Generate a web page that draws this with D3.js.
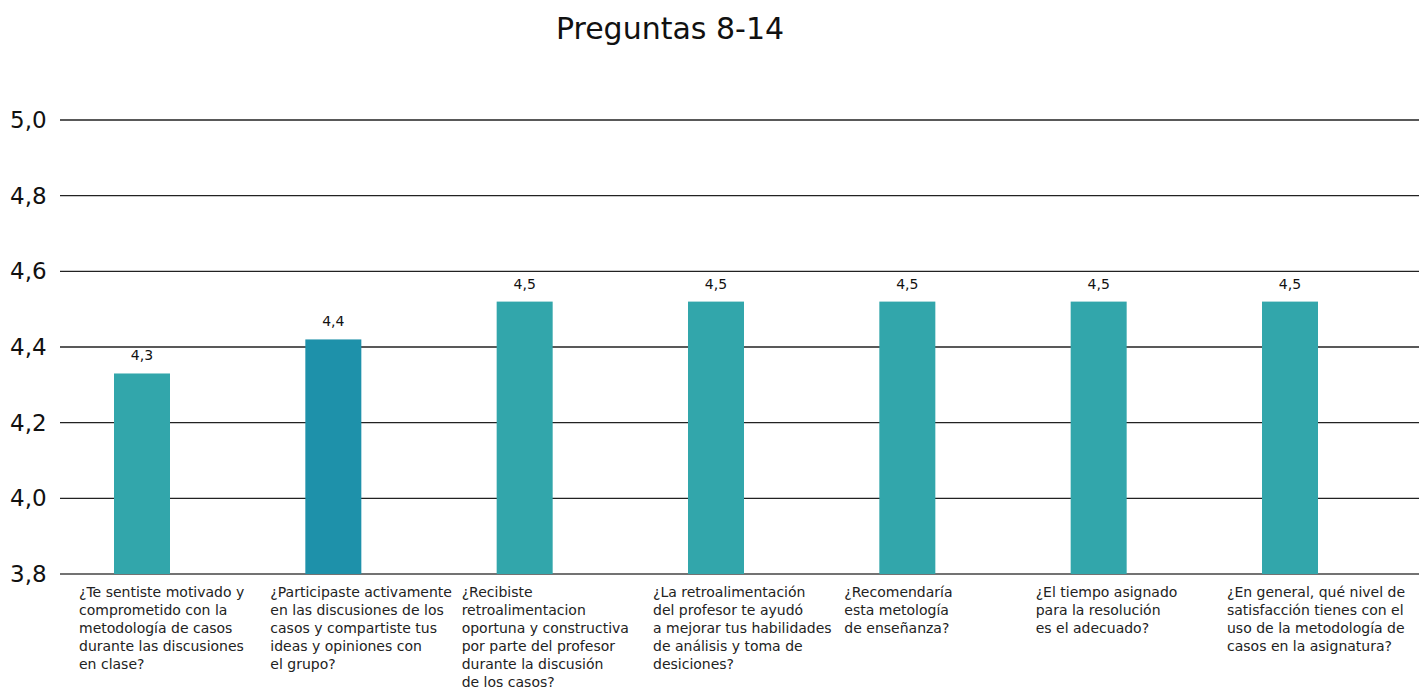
<!DOCTYPE html>
<html>
<head>
<meta charset="utf-8">
<script src="https://cdn.jsdelivr.net/npm/d3@7"></script>
<style>
  body { margin: 0; background: #fff; }
  svg { display: block; font-family: "DejaVu Sans", sans-serif; }
</style>
</head>
<body>
<svg id="chart" width="1419" height="692"></svg>
<script>
// Category labels (line breaks as in the original)
var categories = [
    ['¿Te sentiste motivado y', 'comprometido con la', 'metodología de casos', 'durante las discusiones', 'en clase?'],
    ['¿Participaste activamente', 'en las discusiones de los', 'casos y compartiste tus', 'ideas y opiniones con', 'el grupo?'],
    ['¿Recibiste', 'retroalimentacion', 'oportuna y constructiva', 'por parte del profesor', 'durante la discusión', 'de los casos?'],
    ['¿La retroalimentación', 'del profesor te ayudó', 'a mejorar tus habilidades', 'de análisis y toma de', 'desiciones?'],
    ['¿Recomendaría', 'esta metología', 'de enseñanza?'],
    ['¿El tiempo asignado', 'para la resolución', 'es el adecuado?'],
    ['¿En general, qué nivel de', 'satisfacción tienes con el', 'uso de la metodología de', 'casos en la asignatura?']
];
var values = [4.33, 4.42, 4.52, 4.52, 4.52, 4.52, 4.52];
var yTicks = [3.8, 4.0, 4.2, 4.4, 4.6, 4.8, 5.0];
var highlight = 1;

var svg = d3.select('#chart');
var locale = d3.formatLocale({ decimal: ',', thousands: '.', grouping: [3], currency: ['', ''] });
var fmt = locale.format('.1f');

// Scales
var x = d3.scalePoint()
    .domain(d3.range(categories.length))
    .range([142, 1290]);
var y = d3.scaleLinear()
    .domain([3.8, 5.0])
    .range([574, 120]);
var barWidth = 56;

// Title
svg.append('text')
    .attr('x', 670)
    .attr('y', 39)
    .attr('text-anchor', 'middle')
    .style('font-size', '30px')
    .style('fill', '#111')
    .text('Preguntas 8-14');

// Grid lines + tick labels
var grid = svg.append('g');
grid.selectAll('line')
    .data(yTicks)
    .enter().append('line')
        .attr('x1', 60)
        .attr('x2', 1419)
        .attr('y1', function(d) { return y(d); })
        .attr('y2', function(d) { return y(d); })
        .style('stroke', function(d) { return d === 3.8 ? '#444' : '#222'; })
        .style('stroke-width', 1.3);
grid.selectAll('text')
    .data(yTicks)
    .enter().append('text')
        .attr('x', 10)
        .attr('y', function(d) { return y(d) + 8; })
        .style('font-size', '23px')
        .style('fill', '#111')
        .text(function(d) { return fmt(d); });

// Bars
svg.append('g').selectAll('rect')
    .data(values)
    .enter().append('rect')
        .attr('x', function(d, i) { return x(i) - barWidth / 2; })
        .attr('y', function(d) { return y(d); })
        .attr('width', barWidth)
        .attr('height', function(d) { return y(3.8) - y(d); })
        .style('fill', function(d, i) { return i === highlight ? '#1e91aa' : '#32a6ab'; });

// Value labels
svg.append('g').selectAll('text')
    .data(values)
    .enter().append('text')
        .attr('x', function(d, i) { return x(i); })
        .attr('y', function(d) { return y(d) - 13; })
        .attr('text-anchor', 'middle')
        .style('font-size', '14px')
        .style('fill', '#111')
        .text(function(d) { return fmt(d); });

// Category labels, left aligned under each bar
var labels = svg.append('g').selectAll('text')
    .data(categories)
    .enter().append('text')
        .attr('transform', function(d, i) { return 'translate(' + (x(i) - 63) + ',0)'; })
        .style('font-size', '14px')
        .style('fill', '#222');
labels.each(function(lines) {
    var t = d3.select(this);
    lines.forEach(function(l, j) {
        t.append('tspan')
            .attr('x', 0)
            .attr('y', 597 + j * 18)
            .text(l);
    });
});
</script>
</body>
</html>
